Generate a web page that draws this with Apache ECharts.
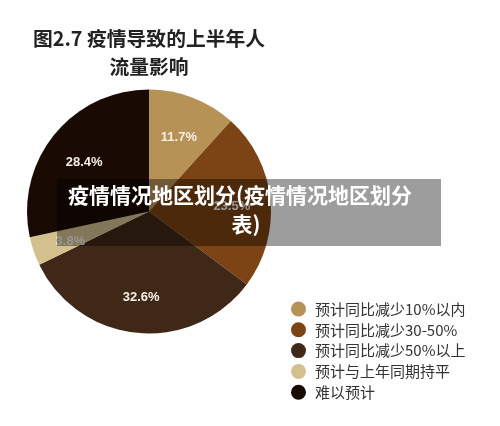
<!DOCTYPE html>
<html>
<head>
<meta charset="utf-8">
<style>
  html, body { margin: 0; padding: 0; background: #fff; }
  #main { width: 500px; height: 426px; }
</style>
<script src="https://cdn.jsdelivr.net/npm/echarts@6/dist/echarts.min.js"></script>
</head>
<body>
<div id="main"></div>
<script>
var categories = ['预计同比减少10%以内', '预计同比减少30-50%', '预计同比减少50%以上', '预计与上年同期持平', '难以预计'];
var shares = [11.7, 23.5, 32.6, 3.8, 28.4];
var colors = ['#b79256', '#7c4314', '#402818', '#d2c18f', '#190b03'];
var chartTitle = '图2.7 疫情导致的上半年人\n流量影响';
var bannerLines = ['疫情情况地区划分(疫情情况地区划分', '表)'];

var font = '"Noto Sans CJK SC", "Noto Sans", sans-serif';
var myechart = echarts.init(document.getElementById('main'), null, { renderer: 'canvas' });

var pieData = categories.map(function (name, i) {
  return { name: name, value: shares[i], itemStyle: { color: colors[i] } };
});

var option = {
  animation: false,
  backgroundColor: '#fefefe',
  title: {
    text: chartTitle,
    left: 144,
    top: 19,
    textAlign: 'center',
    textStyle: {
      fontFamily: font,
      fontSize: 19.8,
      fontWeight: 'bold',
      color: '#222',
      lineHeight: 28
    }
  },
  legend: {
    orient: 'vertical',
    left: 286,
    top: 295,
    icon: 'circle',
    itemWidth: 15,
    itemHeight: 15,
    itemGap: 2.8,
    selectedMode: false,
    textStyle: {
      fontFamily: font,
      fontSize: 15,
      color: '#333',
      padding: [0, 0, 0, 4],
      lineHeight: 18
    },
    data: categories
  },
  series: [
    {
      type: 'pie',
      center: [149, 211.5],
      radius: [0, 122],
      startAngle: 90,
      silent: true,
      data: pieData,
      label: {
        show: true,
        position: 'inside',
        formatter: '{c}%',
        fontFamily: '"Liberation Sans", sans-serif',
        fontSize: 13,
        fontWeight: 'bold',
        color: '#f5efe6'
      },
      // push labels out to about two thirds of the radius
      labelLayout: function (params) {
        var r = params.labelRect;
        return {
          dx: (r.x + r.width / 2 - 149) * 0.3,
          dy: (r.y + r.height / 2 - 211) * 0.3 + 3
        };
      },
      labelLine: { show: false }
    }
  ],
  graphic: [
    {
      type: 'rect',
      z: 100,
      shape: { x: 57, y: 179, width: 384, height: 67 },
      style: { fill: 'rgba(0,0,0,0.38)' }
    },
    {
      type: 'text',
      z: 101,
      x: 240,
      y: 181,
      style: { text: bannerLines[0], fill: '#fff', font: 'bold 21px ' + font, lineHeight: 29, align: 'center' }
    },
    {
      type: 'text',
      z: 101,
      x: 246,
      y: 210,
      style: { text: bannerLines[1], fill: '#fff', font: 'bold 21px ' + font, lineHeight: 29, align: 'center' }
    }
  ]
};

myechart.setOption(option);
</script>
</body>
</html>
